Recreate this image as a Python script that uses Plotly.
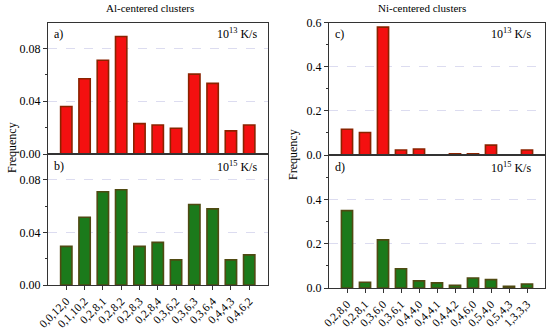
import plotly.graph_objects as go

al_categories = ["0,0,12,0", "0,1,10,2", "0,2,8,1", "0,2,8,2", "0,2,8,3", "0,2,8,4",
                 "0,3,6,2", "0,3,6,3", "0,3,6,4", "0,4,4,3", "0,4,6,2"]
al_1e13 = [0.036, 0.057, 0.071, 0.089, 0.023, 0.022, 0.0195, 0.0605, 0.0535, 0.0175, 0.022]
al_1e15 = [0.0293, 0.0515, 0.0708, 0.0724, 0.0293, 0.0324, 0.0191, 0.0611, 0.0578, 0.0191, 0.0229]

ni_categories = ["0,2,8,0", "0,2,8,1", "0,3,6,0", "0,3,6,1", "0,4,4,0", "0,4,4,1",
                 "0,4,4,2", "0,4,6,0", "0,5,4,0", "0,5,4,3", "1,3,3,3"]
ni_1e13 = [0.117, 0.102, 0.580, 0.023, 0.027, 0.0, 0.005, 0.006, 0.045, 0.0, 0.023]
ni_1e15 = [0.349, 0.026, 0.217, 0.087, 0.032, 0.023, 0.012, 0.045, 0.038, 0.0075, 0.018]

FONT = "Liberation Serif"
RED = "#F41010"
RED_EDGE = "#8A2300"
GREEN = "#1B7A1B"
GREEN_EDGE = "#4F4A12"
W, H = 550, 329

def px_x(p):
    return p / W

def px_y(p):
    return 1 - p / H

fig = go.Figure()

def add_bar(x, y, fill, edge, xa, ya):
    fig.add_trace(go.Bar(x=x, y=y, marker=dict(color=fill, line=dict(color=edge, width=1.6)),
                         xaxis=xa, yaxis=ya, showlegend=False, width=0.62))

add_bar(al_categories, al_1e13, RED, RED_EDGE, "x", "y")
add_bar(al_categories, al_1e15, GREEN, GREEN_EDGE, "x2", "y2")
add_bar(ni_categories, ni_1e13, RED, RED_EDGE, "x3", "y3")
add_bar(ni_categories, ni_1e15, GREEN, GREEN_EDGE, "x4", "y4")

common_x = dict(showline=True, mirror=True, linecolor="#333333", linewidth=1,
                range=[-1, 11], showgrid=False, zeroline=False, automargin=False,
                tickfont=dict(family=FONT, size=11.5, color="black"))
common_y = dict(showline=True, mirror=True, linecolor="#333333", linewidth=1,
                showgrid=True, gridcolor="#dcdcf0", griddash="dash", gridwidth=1,
                zeroline=False, ticks="outside", ticklen=4, tickcolor="#333333", automargin=False,
                tickfont=dict(family=FONT, size=12, color="black"))

LX = [px_x(48), px_x(267.5)]
RX = [px_x(329), px_x(545)]

fig.update_layout(
    width=W, height=H, margin=dict(l=0, r=0, t=0, b=0, pad=0, autoexpand=False),
    paper_bgcolor="white", plot_bgcolor="white", bargap=0.4,
    xaxis=dict(common_x, domain=LX, anchor="y", showticklabels=False, ticks=""),
    yaxis=dict(common_y, domain=[px_y(154), px_y(22.7)], anchor="x", range=[0, 0.0995],
               tickvals=[0, 0.04, 0.08], tickformat=".2f",
               minor=dict(ticks="outside", ticklen=2, tickvals=[0.02, 0.06], tickcolor="#333333", showgrid=False)),
    xaxis2=dict(common_x, domain=LX, anchor="y2", ticks="outside", ticklen=4, tickcolor="#333333",
                tickangle=-45),
    yaxis2=dict(common_y, domain=[px_y(285), px_y(154)], anchor="x2", range=[0, 0.0995],
                tickvals=[0, 0.04, 0.08], tickformat=".2f",
                minor=dict(ticks="outside", ticklen=2, tickvals=[0.02, 0.06], tickcolor="#333333", showgrid=False)),
    xaxis3=dict(common_x, domain=RX, anchor="y3", showticklabels=False, ticks=""),
    yaxis3=dict(common_y, domain=[px_y(155), px_y(22.7)], anchor="x3", range=[0, 0.6],
                tickvals=[0, 0.2, 0.4, 0.6], tickformat=".1f",
                minor=dict(ticks="outside", ticklen=2, tickvals=[0.1, 0.3, 0.5], tickcolor="#333333", showgrid=False)),
    xaxis4=dict(common_x, domain=RX, anchor="y4", ticks="outside", ticklen=4, tickcolor="#333333",
                tickangle=-45),
    yaxis4=dict(common_y, domain=[px_y(288), px_y(155)], anchor="x4", range=[0, 0.6],
                tickvals=[0, 0.2, 0.4], tickformat=".1f",
                minor=dict(ticks="outside", ticklen=2, tickvals=[0.1, 0.3, 0.5], tickcolor="#333333", showgrid=False)),
)

def ann(text, x, y, xanchor="center", yanchor="middle", size=12, angle=0):
    fig.add_annotation(text=text, x=x, y=y, xref="paper", yref="paper", showarrow=False,
                       xanchor=xanchor, yanchor=yanchor, textangle=angle,
                       font=dict(family=FONT, size=size, color="black"))

ann("Al-centered clusters", px_x(150), px_y(8), size=11)
ann("Ni-centered clusters", px_x(422), px_y(8), size=11)
ann("Frequency", px_x(12), px_y(148), angle=-90)
ann("Frequency", px_x(293), px_y(155), angle=-90)

ann("a)", px_x(52), px_y(34), xanchor="left")
ann("b)", px_x(52), px_y(166), xanchor="left")
ann("c)", px_x(333), px_y(34), xanchor="left")
ann("d)", px_x(333), px_y(167), xanchor="left")
ann("10<sup>13</sup> K/s", px_x(259), px_y(34), xanchor="right")
ann("10<sup>15</sup> K/s", px_x(259), px_y(166), xanchor="right")
ann("10<sup>13</sup> K/s", px_x(533), px_y(34), xanchor="right")
ann("10<sup>15</sup> K/s", px_x(533), px_y(167), xanchor="right")

fig.write_html("out.html",
               config={"displayModeBar": False},
               post_script="document.body.style.margin='0';document.body.style.padding='0';"
                           "document.body.style.overflow='hidden';")
